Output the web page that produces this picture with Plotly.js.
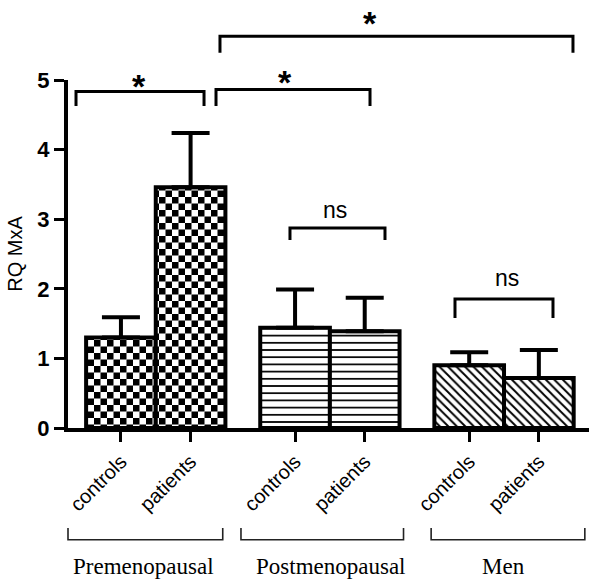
<!DOCTYPE html>
<html>
<head>
<meta charset="utf-8">
<script src="https://cdn.plot.ly/plotly-3.0.1.min.js"></script>
<style>
  html, body { margin: 0; padding: 0; background: #fff; }
  #chart { width: 589px; height: 581px; }
</style>
</head>
<body>
<div id="chart"></div>
<script>
// ---- data ----
const groups = ['Premenopausal', 'Postmenopausal', 'Men'];
const subjects = ['controls', 'patients'];
const premenopausalMean = [1.30, 3.46];
const premenopausalSEM  = [0.29, 0.78];
const postmenopausalMean = [1.44, 1.39];
const postmenopausalSEM  = [0.55, 0.48];
const menMean = [0.90, 0.72];
const menSEM  = [0.19, 0.40];
const yTickValues = [0, 1, 2, 3, 4, 5];

// ---- layout helpers ----
const groupStep = 2.5;   // 2 bars + gap
const pos = (g, s) => g * groupStep + s;

const groupPatterns = [
  {shape: '.', size: 13, solidity: 0.5, uid: 'checker'},
  {shape: '-', size: 7.2, solidity: 0.24, uid: 'hlines'},
  {shape: '\\', size: 6, solidity: 0.32, uid: 'diag'}
];
const means = [premenopausalMean, postmenopausalMean, menMean];
const sems = [premenopausalSEM, postmenopausalSEM, menSEM];

const data = groups.map((g, gi) => ({
  type: 'bar',
  uid: groupPatterns[gi].uid,
  name: g,
  x: subjects.map((s, si) => pos(gi, si)),
  y: means[gi],
  width: 1,
  marker: {
    color: 'black',
    line: {color: 'black', width: 4},
    pattern: {
      shape: groupPatterns[gi].shape,
      size: groupPatterns[gi].size,
      solidity: groupPatterns[gi].solidity,
      fgcolor: 'black',
      bgcolor: 'white',
      fillmode: 'replace'
    }
  },
  error_y: {
    type: 'data', symmetric: false,
    array: sems[gi], arrayminus: sems[gi].map(() => 0),
    color: 'black', thickness: 4, width: 19
  },
  hoverinfo: 'skip',
  showlegend: false
}));

const tickVals = [], tickText = [];
groups.forEach((g, gi) => subjects.forEach((s, si) => { tickVals.push(pos(gi, si)); tickText.push(s); }));

// significance brackets (x in data units, y in paper units)
const brackets = [
  {x0: -0.645, x1: 1.193, top: 0.967, bot: 0.925, label: '*', lx: 0.26, ly: 0.982},
  {x0: 1.365, x1: 3.576, top: 0.973, bot: 0.925, label: '*', lx: 2.356, ly: 0.995},
  {x0: 1.422, x1: 6.49, top: 1.126, bot: 1.078, label: '*', lx: 3.572, ly: 1.165},
  {x0: 2.427, x1: 3.791, top: 0.575, bot: 0.540, label: 'ns', lx: 3.069, ly: 0.626},
  {x0: 4.796, x1: 6.203, top: 0.371, bot: 0.316, label: 'ns', lx: 5.539, ly: 0.431}
];
// group brackets beneath the axis (paper units)
const groupSpans = [
  {x0: 0.0, x1: 0.297, cx: 0.145},
  {x0: 0.332, x1: 0.644, cx: 0.505},
  {x0: 0.697, x1: 0.992, cx: 0.836}
];

const shapes = [];
const annotations = [];
brackets.forEach(b => {
  shapes.push({
    type: 'path', xref: 'x', yref: 'paper',
    path: `M${b.x0},${b.bot} L${b.x0},${b.top} L${b.x1},${b.top} L${b.x1},${b.bot}`,
    line: {color: 'black', width: 3}
  });
  annotations.push({
    xref: 'x', yref: 'paper', x: b.lx, y: b.ly, text: b.label, showarrow: false,
    xanchor: 'center', yanchor: 'middle',
    font: b.label === '*' ? {family: 'Liberation Sans, Arial', size: 34, color: 'black', weight: 'bold'}
                          : {family: 'Liberation Sans, Arial', size: 23, color: 'black'}
  });
});
groupSpans.forEach((s, i) => {
  shapes.push({
    type: 'path', xref: 'paper', yref: 'paper',
    path: `M${s.x0},-0.287 L${s.x0},-0.321 L${s.x1},-0.321 L${s.x1},-0.287`,
    line: {color: '#222', width: 1.6}
  });
  annotations.push({
    xref: 'paper', yref: 'paper', x: s.cx, y: -0.399, text: groups[i], showarrow: false,
    xanchor: 'center', yanchor: 'middle',
    font: {family: 'Liberation Serif, Times New Roman', size: 23, color: 'black'}
  });
});

const layout = {
  width: 589, height: 581,
  margin: {l: 68, r: 0, t: 80, b: 153},
  paper_bgcolor: 'white', plot_bgcolor: 'white',
  bargap: 0,
  xaxis: {
    range: [-0.76, 6.72],
    showgrid: false, zeroline: false,
    showline: true, linecolor: 'black', linewidth: 4,
    ticks: 'outside', ticklen: 10, tickwidth: 3, tickcolor: 'black',
    tickvals: tickVals, ticktext: tickText, tickangle: -45,
    tickfont: {family: 'Liberation Sans, Arial', size: 20, color: 'black'}
  },
  yaxis: {
    range: [0, 5],
    tickvals: yTickValues,
    showgrid: false, zeroline: false,
    showline: true, linecolor: 'black', linewidth: 4,
    ticks: 'outside', ticklen: 10, tickwidth: 3, tickcolor: 'black',
    tickfont: {family: 'Liberation Sans, Arial', size: 22, color: 'black', weight: 'bold'},
    title: {text: 'RQ MxA', font: {family: 'Liberation Sans, Arial', size: 20, color: 'black'}, standoff: 10}
  },
  shapes: shapes,
  annotations: annotations,
  showlegend: false
};

Plotly.newPlot('chart', data, layout, {staticPlot: true}).then(() => {
  // turn the dot pattern of the premenopausal bars into a checkerboard
  const a = 6.5, ns = 'http://www.w3.org/2000/svg';
  document.querySelectorAll('pattern').forEach(p => {
    if (!(p.id.indexOf('checker') >= 0 || p.querySelector('circle'))) return;
    while (p.firstChild) p.removeChild(p.firstChild);
    p.setAttribute('width', 2 * a);
    p.setAttribute('height', 2 * a);
    [[0, 0, 2 * a, 2 * a, '#fff'], [0, 0, a, a, '#000'], [a, a, a, a, '#000']].forEach(r => {
      const el = document.createElementNS(ns, 'rect');
      el.setAttribute('x', r[0]); el.setAttribute('y', r[1]);
      el.setAttribute('width', r[2]); el.setAttribute('height', r[3]);
      el.setAttribute('fill', r[4]);
      p.appendChild(el);
    });
  });
});
</script>
</body>
</html>
